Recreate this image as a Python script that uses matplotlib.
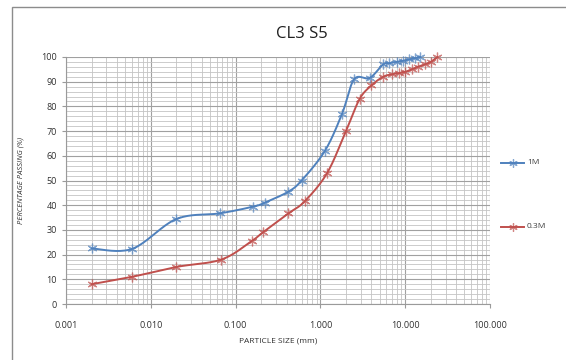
import numpy as np
import matplotlib
matplotlib.use("Agg")
import matplotlib.pyplot as plt
from matplotlib.ticker import FixedLocator, LogLocator, MultipleLocator, NullFormatter
from matplotlib.patches import Rectangle

# Grading data (particle size in mm, percent passing)
size_1m = [0.002, 0.006, 0.02, 0.065, 0.16, 0.22, 0.42, 0.6, 1.13, 1.8, 2.5, 3.8,
           5.5, 6.5, 8.0, 9.5, 11.0, 13.0, 15.0]
pass_1m = [22.5, 22.3, 34.4, 36.7, 39.4, 41.0, 45.5, 50.0, 62.0, 77.0, 91.0, 91.5,
           97.0, 97.5, 98.0, 98.5, 99.0, 99.5, 100.0]

size_03m = [0.002, 0.006, 0.02, 0.068, 0.155, 0.21, 0.42, 0.65, 1.2, 2.0, 2.9, 4.0,
            5.5, 7.0, 8.5, 10.0, 12.0, 14.0, 17.0, 20.0, 24.0]
pass_03m = [8.0, 11.0, 15.0, 18.0, 25.5, 29.0, 36.7, 41.5, 53.0, 70.0, 83.0, 88.5,
            92.0, 93.0, 93.5, 94.0, 95.0, 96.0, 97.0, 98.0, 100.0]

series_names = ["1M", "0.3M"]
x_ticks = [0.001, 0.01, 0.1, 1, 10, 100]
x_ticklabels = ["0.001", "0.010", "0.100", "1.000", "10.000", "100.000"]
y_ticks = list(range(0, 101, 10))


def smooth(xs, ys, n=20):
    # Catmull-Rom through the points, worked out in log-x space
    lx = np.log10(xs)
    y = np.asarray(ys, float)
    px = np.concatenate([[lx[0]], lx, [lx[-1]]])
    py = np.concatenate([[y[0]], y, [y[-1]]])
    outx, outy = [], []
    t = np.linspace(0, 1, n, endpoint=False)
    for i in range(1, len(px) - 2):
        p0, p1, p2, p3 = px[i - 1], px[i], px[i + 1], px[i + 2]
        q0, q1, q2, q3 = py[i - 1], py[i], py[i + 1], py[i + 2]
        c1x, c1y = p1 + (p2 - p0) / 6, q1 + (q2 - q0) / 6
        c2x, c2y = p2 - (p3 - p1) / 6, q2 - (q3 - q1) / 6
        bx = (1 - t) ** 3 * p1 + 3 * (1 - t) ** 2 * t * c1x + 3 * (1 - t) * t ** 2 * c2x + t ** 3 * p2
        by = (1 - t) ** 3 * q1 + 3 * (1 - t) ** 2 * t * c1y + 3 * (1 - t) * t ** 2 * c2y + t ** 3 * q2
        outx.extend(bx)
        outy.extend(by)
    outx.append(lx[-1])
    outy.append(y[-1])
    return 10 ** np.array(outx), np.array(outy)


fig = plt.figure(figsize=(5.66, 3.6), dpi=100)
plt.rcParams['font.family'] = ['Open Sans', 'DejaVu Sans']

# chart area frame, running off the right and bottom edges
fig.patches.append(Rectangle((12 / 566, -1.0), 3.0, 2 - 7 / 360,
                             transform=fig.transFigure, fill=False,
                             edgecolor='#8c8c8c', lw=1.0))

ax = fig.add_axes([66 / 566, 1 - 304 / 360, 424 / 566, 247 / 360])
ax.set_xscale('log')
ax.set_xlim(0.001, 100)
ax.set_ylim(0, 100)

blue = '#4F81BD'
red = '#C0504D'
star = (6, 2, 0)

for xs, ys, col, name in [(size_1m, pass_1m, blue, series_names[0]),
                          (size_03m, pass_03m, red, series_names[1])]:
    sx, sy = smooth(xs, ys)
    ax.plot(sx, sy, color=col, lw=1.4, zorder=3, clip_on=False)
    ax.plot(xs, ys, linestyle='none', marker=star, ms=7, mew=0.9,
            color=col, alpha=0.7, zorder=4, clip_on=False)

ax.xaxis.set_major_locator(FixedLocator(x_ticks))
ax.set_xticklabels(x_ticklabels)
ax.xaxis.set_minor_locator(LogLocator(base=10, subs=np.arange(2, 10)))
ax.xaxis.set_minor_formatter(NullFormatter())
ax.set_yticks(y_ticks)
ax.yaxis.set_minor_locator(MultipleLocator(2))

ax.grid(which='major', color='#a0a0a0', lw=0.8)
ax.grid(which='minor', color='#c4c4c4', lw=0.6)
ax.set_axisbelow(True)

for s in ['top', 'right']:
    ax.spines[s].set_visible(False)
for s in ['left', 'bottom']:
    ax.spines[s].set_color('#9a9a9a')

ax.tick_params(which='major', labelsize=6.5, colors='#9a9a9a', labelcolor='#303030',
               length=3, width=0.8)
ax.tick_params(which='minor', length=0)
ax.tick_params(axis='x', pad=9)

ax.set_xlabel('PARTICLE SIZE (mm)', fontsize=6, color='#303030', labelpad=6)
ax.set_ylabel('PERCENTAGE PASSING (%)', fontsize=5.5, style='italic',
              color='#303030', labelpad=12)
fig.text(302 / 566, 1 - 34 / 360, 'CL3 S5', fontsize=12, ha='center',
         va='center', color='#202020')

# legend entries placed to the right of the plot
for yy, col, name in [(163, blue, series_names[0]), (227, red, series_names[1])]:
    fy = 1 - yy / 360
    fig.lines.append(plt.Line2D([501 / 566, 524 / 566], [fy, fy], color=col, lw=1.4,
                                transform=fig.transFigure))
    fig.lines.append(plt.Line2D([512.5 / 566], [fy], color=col, marker=star, ms=6,
                                mew=0.9, alpha=0.7, transform=fig.transFigure))
    fig.text(527 / 566, fy, name, fontsize=6, va='center', color='#404040')

fig.savefig('out.png', dpi=100)
